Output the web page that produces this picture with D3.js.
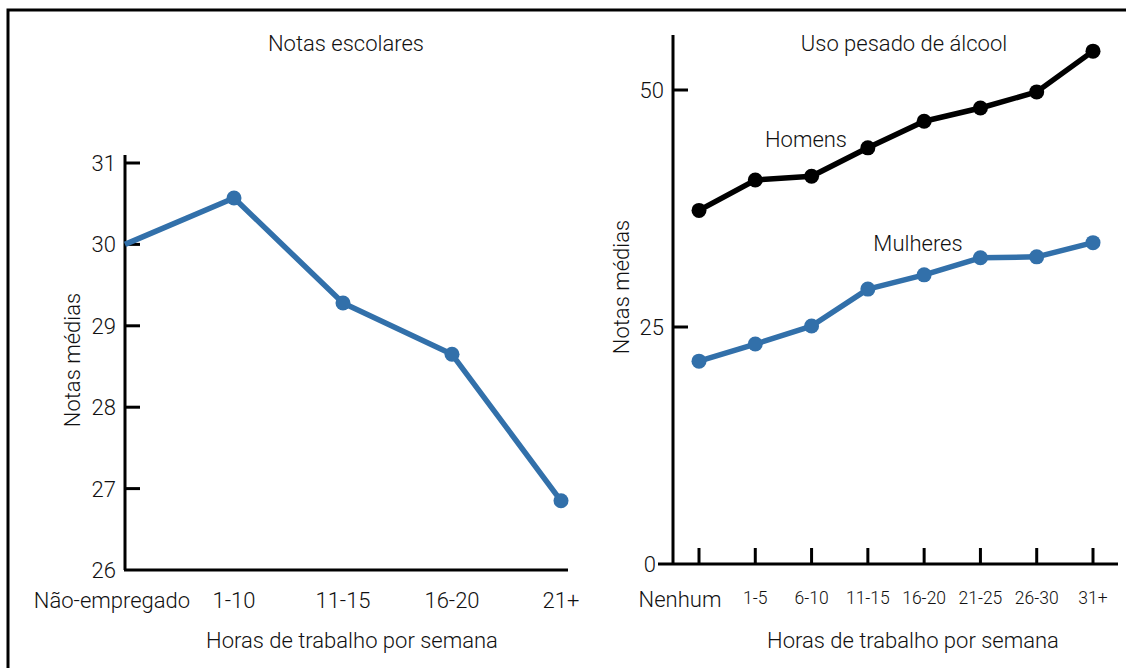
<!doctype html>
<html>
<head>
<meta charset="utf-8">
<title>Horas de trabalho</title>
<script src="https://cdn.jsdelivr.net/npm/d3@7"></script>
<style>
  body { margin: 0; background: #fff; }
  text { font-family: "Roboto", sans-serif; font-weight: 300; fill: #111; }
</style>
</head>
<body>
<script>
"use strict";

const leftCats = ["Não-empregado", "1-10", "11-15", "16-20", "21+"];
const leftValues = [30.0, 30.57, 29.28, 28.65, 26.85];
const leftTicks = [26, 27, 28, 29, 30, 31];

const rightCats = ["Nenhum", "1-5", "6-10", "11-15", "16-20", "21-25", "26-30", "31+"];
const homens = [37.3, 40.5, 40.9, 43.9, 46.7, 48.1, 49.8, 54.1];
const mulheres = [21.4, 23.2, 25.1, 29.0, 30.5, 32.3, 32.4, 33.9];
const rightTicks = [0, 25, 50];

const width = 1126, height = 668;
const blue = "#3270aa";

const svg = d3.select("body").append("svg")
    .attr("width", width)
    .attr("height", height);

// outer frame
svg.append("rect")
    .attr("x", 8).attr("y", 10)
    .attr("width", width).attr("height", height)
    .attr("fill", "none").attr("stroke", "#000").attr("stroke-width", 3);

// ---------- left panel ----------
const x1 = d3.scalePoint().domain(leftCats).range([125, 561]);
const y1 = d3.scaleLinear().domain([26, 31]).range([570, 163]);

const gl = svg.append("g");

gl.append("line").attr("x1", 125).attr("x2", 125).attr("y1", 155).attr("y2", y1(26))
    .attr("stroke", "#000").attr("stroke-width", 3);
gl.append("line").attr("x1", 124).attr("x2", 568).attr("y1", y1(26)).attr("y2", y1(26))
    .attr("stroke", "#000").attr("stroke-width", 3);

gl.selectAll(".ytick").data(leftTicks.filter(d => d > 26)).join("line")
    .attr("x1", 125).attr("x2", 140)
    .attr("y1", d => y1(d)).attr("y2", d => y1(d))
    .attr("stroke", "#000").attr("stroke-width", 3);

gl.selectAll(".ylab").data(leftTicks).join("text")
    .attr("x", 116).attr("y", d => y1(d) + 8)
    .attr("text-anchor", "end").attr("font-size", 22)
    .text(d => d);

gl.selectAll(".xlab").data(leftCats).join("text")
    .attr("x", (d, i) => x1(d) + (i === 0 ? -13 : 0))
    .attr("y", 608)
    .attr("text-anchor", "middle").attr("font-size", 22)
    .text(d => d);

gl.append("text").attr("x", 352).attr("y", 648).attr("text-anchor", "middle")
    .attr("font-size", 22).text("Horas de trabalho por semana");
gl.append("text").attr("x", 346).attr("y", 51).attr("text-anchor", "middle")
    .attr("font-size", 22).text("Notas escolares");
gl.append("text").attr("transform", "translate(80,360) rotate(-90)")
    .attr("text-anchor", "middle").attr("font-size", 22).text("Notas médias");

const leftData = leftCats.map((c, i) => ({ c, v: leftValues[i] }));
gl.append("path").datum(leftData)
    .attr("fill", "none").attr("stroke", blue).attr("stroke-width", 5.5)
    .attr("stroke-linejoin", "round")
    .attr("d", d3.line().x(d => x1(d.c)).y(d => y1(d.v)));
gl.selectAll(".dot").data(leftData.slice(1)).join("circle")
    .attr("cx", d => x1(d.c)).attr("cy", d => y1(d.v)).attr("r", 7.5)
    .attr("fill", blue);

// ---------- right panel ----------
const x2 = d3.scalePoint().domain(rightCats).range([699, 1093]);
const y2 = d3.scaleLinear().domain([0, 50]).range([564, 90]);

const gr = svg.append("g");

gr.append("line").attr("x1", 673).attr("x2", 673).attr("y1", 35).attr("y2", y2(0))
    .attr("stroke", "#000").attr("stroke-width", 3);
gr.append("line").attr("x1", 658).attr("x2", 1118).attr("y1", y2(0)).attr("y2", y2(0))
    .attr("stroke", "#000").attr("stroke-width", 3);

gr.selectAll(".ytick").data(rightTicks.filter(d => d > 0)).join("line")
    .attr("x1", 673).attr("x2", 688)
    .attr("y1", d => y2(d)).attr("y2", d => y2(d))
    .attr("stroke", "#000").attr("stroke-width", 3);

gr.selectAll(".ylab").data(rightTicks).join("text")
    .attr("x", d => d === 0 ? 656 : 664).attr("y", d => y2(d) + 8)
    .attr("text-anchor", "end").attr("font-size", 22)
    .text(d => d);

gr.selectAll(".xtick").data(rightCats).join("line")
    .attr("x1", d => x2(d)).attr("x2", d => x2(d))
    .attr("y1", y2(0)).attr("y2", y2(0) - 16)
    .attr("stroke", "#000").attr("stroke-width", 3);

gr.selectAll(".xlab").data(rightCats).join("text")
    .attr("x", (d, i) => x2(d) + (i === 0 ? -19 : 0))
    .attr("y", (d, i) => i === 0 ? 607 : 604)
    .attr("text-anchor", "middle")
    .attr("font-size", (d, i) => i === 0 ? 22 : 17.5)
    .text(d => d);

gr.append("text").attr("x", 913).attr("y", 648).attr("text-anchor", "middle")
    .attr("font-size", 22).text("Horas de trabalho por semana");
gr.append("text").attr("x", 904).attr("y", 51).attr("text-anchor", "middle")
    .attr("font-size", 22).text("Uso pesado de álcool");
gr.append("text").attr("transform", "translate(629,287) rotate(-90)")
    .attr("text-anchor", "middle").attr("font-size", 22).text("Notas médias");

const line2 = d3.line().x(d => x2(d.c)).y(d => y2(d.v));
const series = [
    { name: "Homens", values: homens, color: "#000", lx: 806, ly: 147 },
    { name: "Mulheres", values: mulheres, color: blue, lx: 918, ly: 251 }
];

series.forEach(s => {
    const data = rightCats.map((c, i) => ({ c, v: s.values[i] }));
    gr.append("path").datum(data)
        .attr("fill", "none").attr("stroke", s.color).attr("stroke-width", 5.5)
        .attr("stroke-linejoin", "round")
        .attr("d", line2);
    gr.selectAll(null).data(data).join("circle")
        .attr("cx", d => x2(d.c)).attr("cy", d => y2(d.v)).attr("r", 7.5)
        .attr("fill", s.color);
    gr.append("text").attr("x", s.lx).attr("y", s.ly).attr("text-anchor", "middle")
        .attr("font-size", 22).text(s.name);
});
</script>
</body>
</html>
